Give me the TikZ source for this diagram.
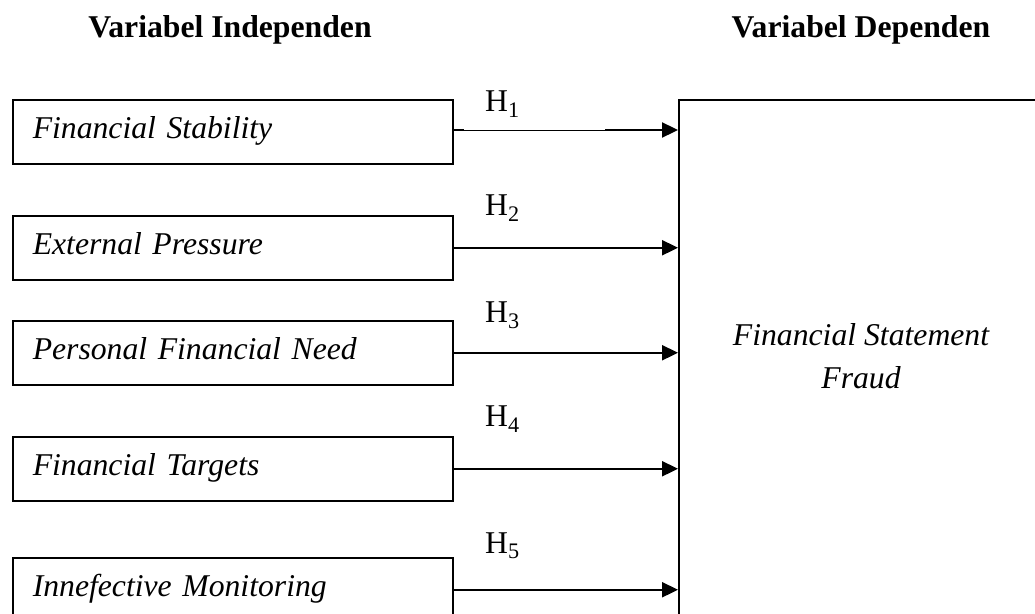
\documentclass[tikz,border=0pt]{standalone}
\usepackage{fontspec}
\setmainfont{Liberation Serif}
\usetikzlibrary{arrows.meta}
\begin{document}
\begin{tikzpicture}[x=1pt,y=-1pt,
  txt/.style={font=\fontsize{31.7}{43}\selectfont, inner sep=0pt},
  head/.style={font=\fontsize{31.7}{43}\selectfont\bfseries, inner sep=0pt, anchor=base},
  varbox/.style={draw, line width=1.5pt, anchor=north west, text width=400pt, align=left,
    inner xsep=20pt, inner ysep=0pt, minimum height=64pt, text height=22pt, text depth=8pt,
    font=\fontsize{31.7}{43}\selectfont\itshape},
  bigbox/.style={draw, line width=1.5pt, anchor=north west, minimum width=500pt,
    minimum height=600pt, inner sep=0pt},
  conn/.style={line width=2.3pt, -{Triangle[length=16pt,width=15pt]}},
  hlab/.style={font=\fontsize{31.7}{43}\selectfont, inner sep=0pt, anchor=base west}
]
\useasboundingbox (0,0) rectangle (1035,613);
\clip (0,0) rectangle (1035,613);

\node[head] (hind) at (230,37) {Variabel Independen};
\node[head] (hdep) at (861,37) {Variabel Dependen};

\node[varbox] (b1) at (12,99) {Financial Stability};
\node[varbox] (b2) at (12,215) {External Pressure};
\node[varbox] (b3) at (12,320) {Personal Financial Need};
\node[varbox] (b4) at (12,436) {Financial Targets};
\node[varbox] (b5) at (12,557) {Innefective Monitoring};

\node[bigbox] (big) at (678,99) {};
\node[txt, align=center] (fsf) at (861,356) {\itshape Financial Statement\\\itshape Fraud};

\node[hlab] (h1) at (485,111) {H\textsubscript{1}};
\node[hlab] (h2) at (485,215) {H\textsubscript{2}};
\node[hlab] (h3) at (485,322) {H\textsubscript{3}};
\node[hlab] (h4) at (485,426) {H\textsubscript{4}};
\node[hlab] (h5) at (485,553) {H\textsubscript{5}};

\coordinate (s1) at (464,130);
\coordinate (m1) at (605,130);
\draw[line width=2pt] (b1.east |- s1) -- (s1);
\draw[line width=1pt] (s1) -- (m1);
\draw[conn] (m1) -- (m1 -| big.west);
\draw[conn] (b2.east) -- (b2.east -| big.west);
\draw[conn] (b3.east) -- (b3.east -| big.west);
\draw[conn] (b4.east) -- (b4.east -| big.west);
\draw[conn] (b5.east) -- (b5.east -| big.west);
\end{tikzpicture}
\end{document}
